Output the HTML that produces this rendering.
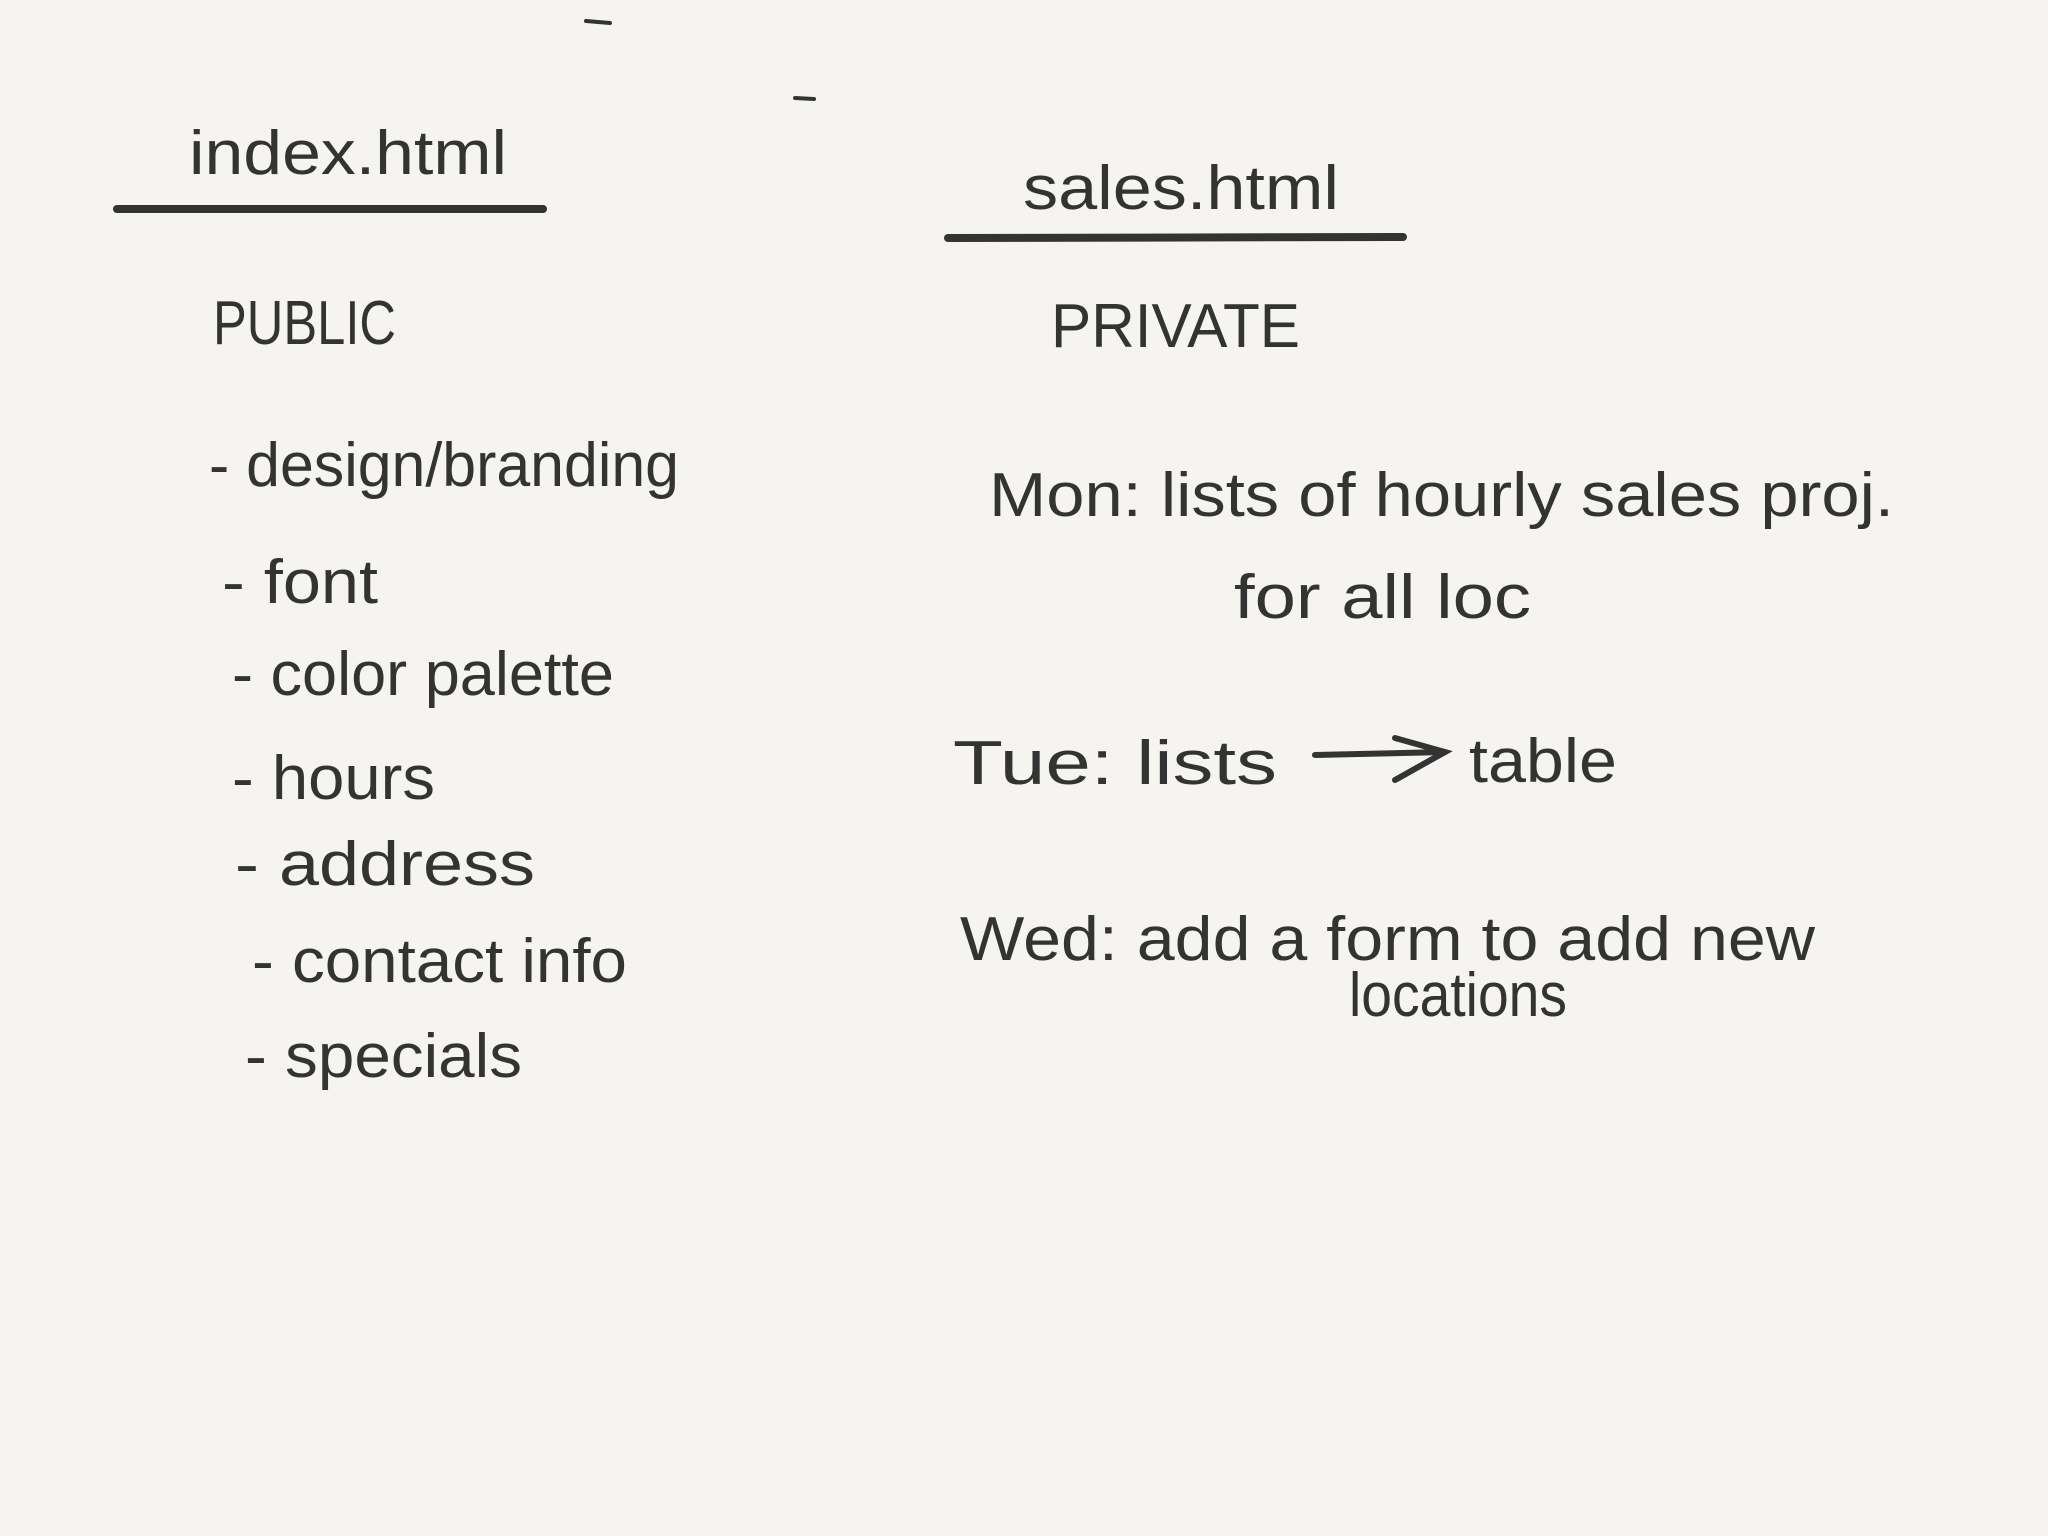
<!DOCTYPE html>
<html><head><meta charset="utf-8"><style>
html,body{margin:0;padding:0;background:#f5f4f0;}
svg{display:block;}
text{font-family:"Liberation Sans",sans-serif;fill:#333;}
</style></head><body>
<svg width="2048" height="1536" viewBox="0 0 2048 1536" xmlns="http://www.w3.org/2000/svg">
<rect width="2048" height="1536" fill="#f5f4f0"/>
<g stroke="#333" stroke-linecap="round" fill="none">
<line x1="586" y1="21" x2="610" y2="23" stroke-width="4"/>
<line x1="795" y1="98" x2="814" y2="99" stroke-width="4"/>
<line x1="117" y1="209" x2="543" y2="209" stroke-width="8"/>
<line x1="948" y1="238" x2="1403" y2="237" stroke-width="8"/>
<line x1="1315" y1="755" x2="1445" y2="752" stroke-width="6"/>
<polyline points="1395,738 1445,752 1395,780" stroke-width="6"/>
</g>
<g font-size="62">
<text x="189" y="174" textLength="318" lengthAdjust="spacingAndGlyphs">index.html</text>
<text x="1023" y="209" textLength="316" lengthAdjust="spacingAndGlyphs">sales.html</text>
<text x="213" y="344" textLength="183" lengthAdjust="spacingAndGlyphs">PUBLIC</text>
<text x="1051" y="347" textLength="249" lengthAdjust="spacingAndGlyphs">PRIVATE</text>
<text x="209" y="486" textLength="470" lengthAdjust="spacingAndGlyphs">- design/branding</text>
<text x="222" y="603" textLength="156" lengthAdjust="spacingAndGlyphs">- font</text>
<text x="232" y="695" textLength="382" lengthAdjust="spacingAndGlyphs">- color palette</text>
<text x="232" y="799" textLength="203" lengthAdjust="spacingAndGlyphs">-  hours</text>
<text x="235" y="885" textLength="300" lengthAdjust="spacingAndGlyphs">-  address</text>
<text x="252" y="982" textLength="375" lengthAdjust="spacingAndGlyphs">- contact info</text>
<text x="245" y="1077" textLength="277" lengthAdjust="spacingAndGlyphs">- specials</text>
<text x="989" y="516" textLength="905" lengthAdjust="spacingAndGlyphs">Mon:  lists of hourly sales proj.</text>
<text x="1234" y="618" textLength="297" lengthAdjust="spacingAndGlyphs">for all  loc</text>
<text x="953" y="784" textLength="324" lengthAdjust="spacingAndGlyphs">Tue:  lists</text>
<text x="1469" y="782" textLength="148" lengthAdjust="spacingAndGlyphs">table</text>
<text x="960" y="960" textLength="855" lengthAdjust="spacingAndGlyphs">Wed:  add a form to add new</text>
<text x="1349" y="1016" textLength="218" lengthAdjust="spacingAndGlyphs">locations</text>
</g>
</svg>
</body></html>
